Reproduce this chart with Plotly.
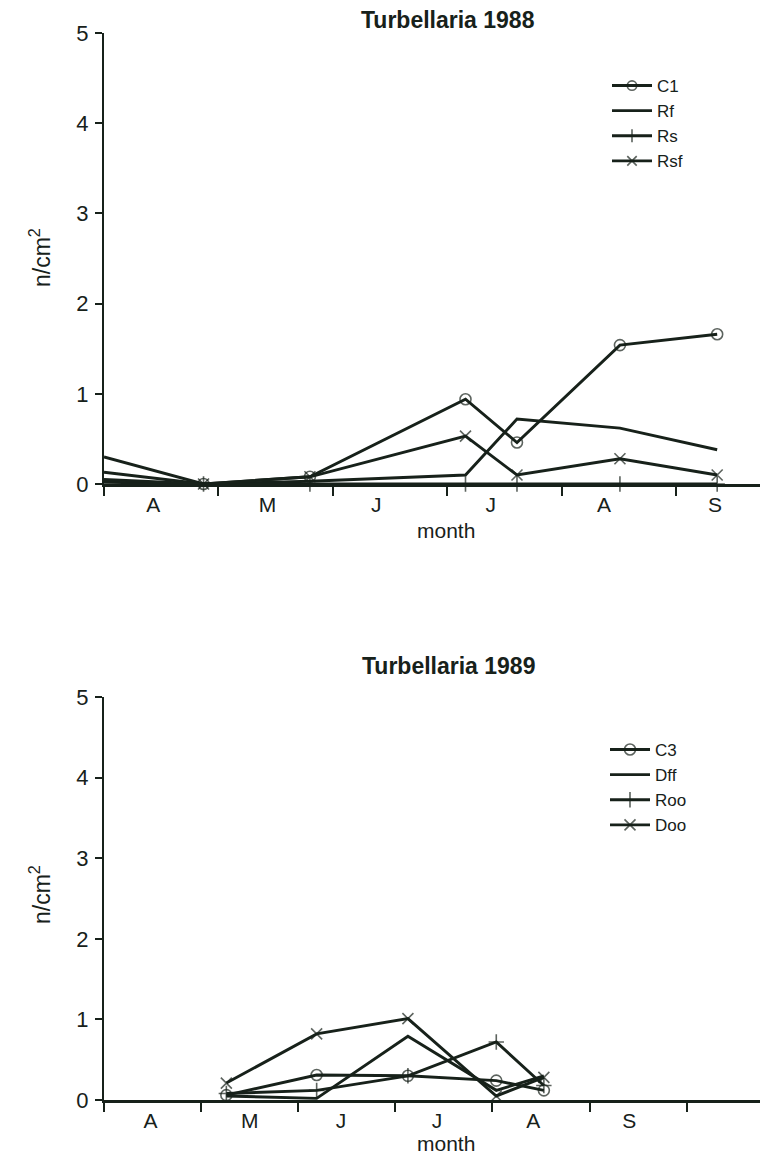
import plotly.graph_objects as go
from plotly.subplots import make_subplots

# ---------------- data ----------------
month_labels = ["A", "M", "J", "J", "A", "S"]

# 1988 (x in months from 1 April)
t88 = [0.0, 0.87, 1.80, 3.16, 3.61, 4.51, 5.36]
C1 = [0.13, 0.0, 0.08, 0.94, 0.46, 1.54, 1.66]
Rf = [0.30, 0.0, 0.03, 0.10, 0.72, 0.62, 0.38]
Rs = [0.02, 0.0, 0.0, 0.0, 0.0, 0.0, 0.0]
Rsf = [0.05, 0.0, 0.08, 0.53, 0.10, 0.28, 0.10]

# 1989
t89 = [1.26, 2.19, 3.13, 4.04, 4.53]
C3 = [0.06, 0.31, 0.30, 0.24, 0.12]
Dff = [0.05, 0.02, 0.79, 0.12, 0.30]
Roo = [0.08, 0.12, 0.30, 0.72, 0.18]
Doo = [0.21, 0.82, 1.01, 0.05, 0.28]

yticks = [0, 1, 2, 3, 4, 5]

# ---------------- figure ----------------
INK = "#17211a"
FONT = "Liberation Sans, Arial, Helvetica, sans-serif"
OFF = 8                      # page body margin that the html adds
W, H = 768 - OFF, 1162 - OFF
ML, MR, MT = 104 - OFF, 0, 33 - OFF
MB = H - (1100 - OFF)
PH = H - MT - MB


def py(page_px):
    return 1 - (page_px - OFF - MT) / PH


def pxx(page_px):
    return (page_px - OFF - ML) / (W - ML - MR)


fig = make_subplots(rows=2, cols=1)
fig.update_layout(
    xaxis=dict(domain=[0, 1]), yaxis=dict(domain=[py(484), py(33)]),
    xaxis2=dict(domain=[0, 1]), yaxis2=dict(domain=[py(1100), py(697)]),
)


def add(x, y, name, symbol, row, legend):
    sizes = [0 if xi < 0.05 else 11 for xi in x]
    mode = "lines" if symbol is None else "lines+markers"
    fig.add_trace(
        go.Scatter(
            x=x, y=y, name=name, mode=mode,
            line=dict(color=INK, width=2.9),
            marker=dict(symbol=symbol or "circle", size=sizes, color=INK,
                        line=dict(color=INK, width=1.6)),
            cliponaxis=False,
            legend=legend,
        ),
        row=row, col=1,
    )


add(t88, C1, "C1", "circle-open", 1, "legend")
add(t88, Rf, "Rf", None, 1, "legend")
add(t88, Rs, "Rs", "cross-thin-open", 1, "legend")
add(t88, Rsf, "Rsf", "x-thin-open", 1, "legend")

add(t89, C3, "C3", "circle-open", 2, "legend2")
add(t89, Dff, "Dff", None, 2, "legend2")
add(t89, Roo, "Roo", "cross-thin-open", 2, "legend2")
add(t89, Doo, "Doo", "x-thin-open", 2, "legend2")

common_y = dict(
    range=[0, 5], tickvals=yticks, ticks="outside", ticklen=7, tickwidth=1.5,
    tickcolor=INK, showline=True, linecolor=INK, linewidth=2.2, showgrid=False,
    zeroline=False, automargin=False, ticklabelstandoff=2,
    tickfont=dict(size=22, color=INK, family=FONT),
)
fig.update_yaxes(**common_y)

top_span = (768 - 104) / 114.4
bot_span = (768 - 104) / 97.1
for i, (span, labpos, nt) in enumerate([
    (top_span, [0.43, 1.43, 2.38, 3.38, 4.37, 5.34], 6),
    (bot_span, [0.48, 1.50, 2.44, 3.43, 4.42, 5.41], 7),
], start=1):
    fig.update_xaxes(
        range=[0, span], tickvals=labpos, ticktext=month_labels, ticks="",
        showline=True, linecolor=INK, linewidth=2.6, showgrid=False, zeroline=False,
        automargin=False,
        tickfont=dict(size=21, color=INK, family=FONT),
        minor=dict(tickvals=list(range(nt)), ticks="outside", ticklen=9,
                   tickwidth=1.5, tickcolor=INK, showgrid=False),
        row=i, col=1,
    )

ann = []
for ttl, ty in [("Turbellaria 1988", 20), ("Turbellaria 1989", 666)]:
    ann.append(dict(text="<b>" + ttl + "</b>", x=pxx(448), y=py(ty), xref="paper",
                    yref="paper", showarrow=False, xanchor="center", yanchor="middle",
                    font=dict(size=23, color=INK, family=FONT)))
for ty in [258, 895]:
    ann.append(dict(text="n/cm<sup>2</sup>", x=pxx(40), y=py(ty), xref="paper",
                    yref="paper", showarrow=False, textangle=-90, xanchor="center",
                    yanchor="middle", font=dict(size=23, color=INK, family=FONT)))
for ty in [530, 1143]:
    ann.append(dict(text="month", x=pxx(446), y=py(ty), xref="paper", yref="paper",
                    showarrow=False, xanchor="center", yanchor="middle",
                    font=dict(size=21, color=INK, family=FONT)))

leg_common = dict(
    xref="paper", yref="paper", xanchor="left", yanchor="top",
    font=dict(size=17, color=INK, family=FONT), bgcolor="rgba(0,0,0,0)",
    itemwidth=40, tracegroupgap=0, itemclick=False,
)
fig.update_layout(
    width=W, height=H,
    margin=dict(l=ML, r=MR, t=MT, b=MB),
    paper_bgcolor="white", plot_bgcolor="white",
    font=dict(family=FONT, color=INK),
    annotations=ann,
    legend=dict(x=pxx(607), y=py(68), **leg_common),
    legend2=dict(x=pxx(605), y=py(732), **leg_common),
)

fig.write_html("out.html")
